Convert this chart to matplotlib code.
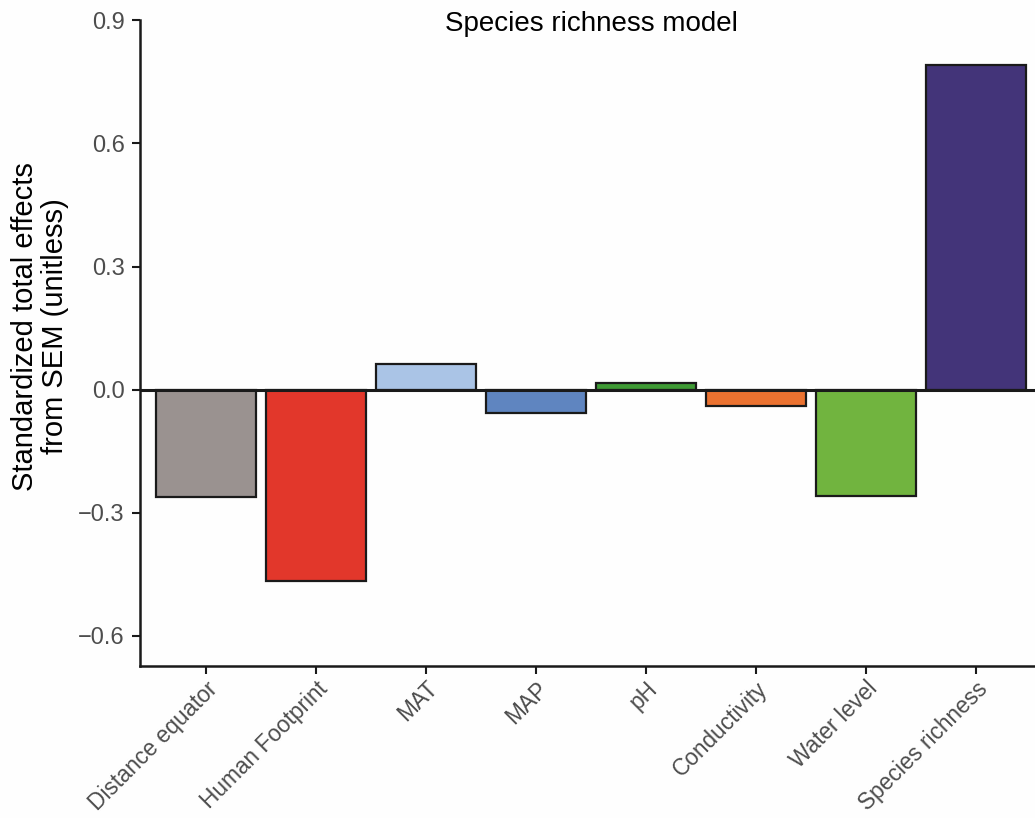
import numpy as np
import matplotlib
matplotlib.use("Agg")
from matplotlib import pyplot as plt

# standardized total effects on species richness
predictors = ["Distance equator", "Human Footprint", "MAT", "MAP", "pH",
              "Conductivity", "Water level", "Species richness"]
total_effects = [-0.261, -0.467, 0.062, -0.057, 0.015, -0.039, -0.259, 0.791]
bar_colors = ["#9A9290", "#E2372B", "#AAC4E6", "#5F85C0", "#3F9B35",
              "#EB7230", "#71B43F", "#433479"]

plt.rcParams['font.family'] = ['Liberation Sans', 'DejaVu Sans']

fig = plt.figure(figsize=(10.35, 8.18), dpi=100)
fig.patch.set_facecolor("#FEFEFE")
ax = fig.add_axes([140 / 1035, 152 / 818, 895 / 1035, 646 / 818])
ax.set_facecolor("#FEFEFE")

x = np.arange(len(predictors))
ax.bar(x, total_effects, width=0.91, color=bar_colors, edgecolor="#1A1A1A",
       linewidth=1.6, zorder=2)
ax.axhline(0, color="#1A1A1A", linewidth=2.2, zorder=3)

ax.set_xlim(-0.6, 7.536)
ax.set_ylim(-0.674, 0.901)
ax.set_yticks([-0.6, -0.3, 0.0, 0.3, 0.6, 0.9])
ax.set_yticklabels(["\u22120.6", "\u22120.3", "0.0", "0.3", "0.6", "0.9"])
ax.set_xticks(x)
ax.set_xticklabels(predictors, rotation=45, ha="right", va="top",
                   rotation_mode="anchor")

for side in ["top", "right"]:
    ax.spines[side].set_visible(False)
for side in ["left", "bottom"]:
    ax.spines[side].set_color("#1A1A1A")
    ax.spines[side].set_linewidth(1.8)
ax.tick_params(axis="both", length=6, width=1.5, color="#1A1A1A",
               labelsize=17, labelcolor="#4D4D4D", pad=5)
ax.tick_params(axis="x", pad=2, labelsize=16.3)

ax.set_ylabel("Standardized total effects\nfrom SEM (unitless)", fontsize=21,
              color="black", linespacing=1.1)
ax.yaxis.set_label_coords(-0.079, 0.526)
fig.text(591 / 1035, 1 - 24 / 818, "Species richness model", fontsize=20,
         ha="center", va="center", color="black")

fig.savefig("out.png", dpi=100, facecolor=fig.get_facecolor())
